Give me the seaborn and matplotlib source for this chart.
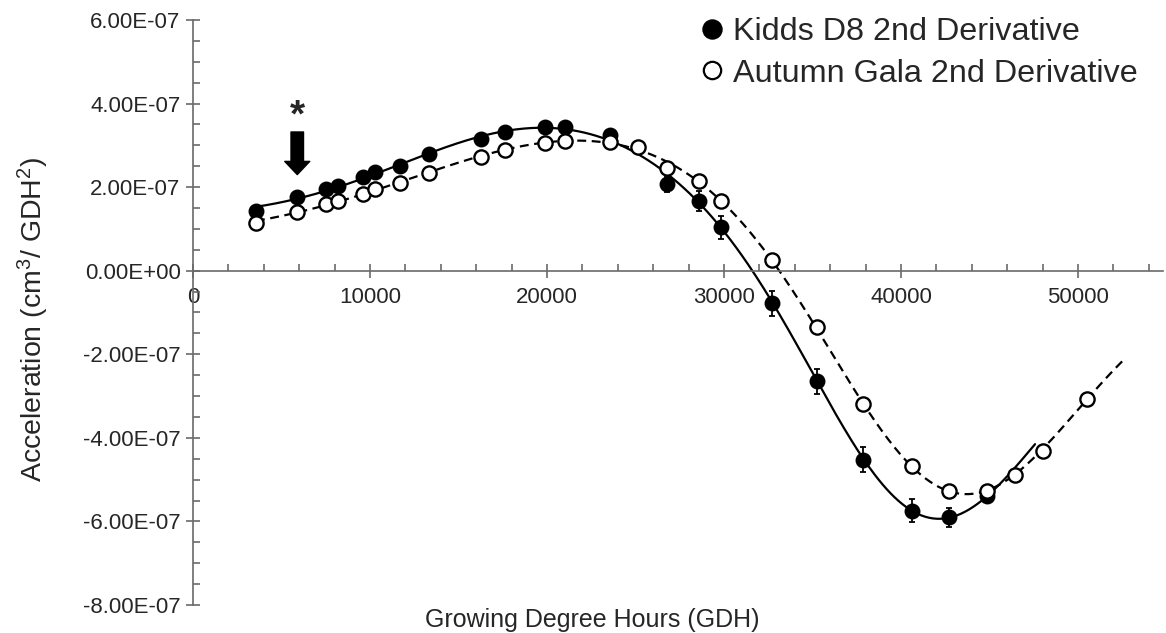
import numpy as np
import pandas as pd
import matplotlib
matplotlib.use("Agg")
import matplotlib.pyplot as plt
import seaborn as sns
from matplotlib.lines import Line2D
from matplotlib.ticker import MultipleLocator, FuncFormatter

# ---------------- data ----------------
kidds_x = [3560, 5890, 7500, 8190, 9590, 10280, 11700, 13310, 16250, 17630,
           19890, 21020, 23560, 26760, 28600, 29830, 32730, 35240, 37870,
           40640, 42710, 44880]
kidds_y = [1.44e-7, 1.76e-7, 1.95e-7, 2.02e-7, 2.24e-7, 2.36e-7, 2.51e-7,
           2.80e-7, 3.16e-7, 3.32e-7, 3.45e-7, 3.45e-7, 3.25e-7, 2.07e-7,
           1.67e-7, 1.04e-7, -7.8e-8, -2.65e-7, -4.52e-7, -5.74e-7,
           -5.90e-7, -5.40e-7]
kidds_err = [0, 0, 0, 0, 0, 0, 0, 0, 0, 0, 0, 0, 0, 1.8e-8, 2.3e-8, 2.7e-8,
             3.0e-8, 3.0e-8, 2.9e-8, 2.7e-8, 2.3e-8, 0]

gala_x = [3560, 5890, 7500, 8190, 9590, 10280, 11700, 13310, 16250, 17630,
          19890, 21020, 23560, 25160, 26760, 28600, 29830, 32730, 35240,
          37870, 40640, 42710, 44880, 46440, 48040, 50490]
gala_y = [1.15e-7, 1.40e-7, 1.60e-7, 1.66e-7, 1.84e-7, 1.96e-7, 2.10e-7,
          2.34e-7, 2.73e-7, 2.88e-7, 3.05e-7, 3.11e-7, 3.09e-7, 2.97e-7,
          2.46e-7, 2.15e-7, 1.67e-7, 2.6e-8, -1.35e-7, -3.19e-7, -4.68e-7,
          -5.26e-7, -5.26e-7, -4.90e-7, -4.31e-7, -3.06e-7]

# where each fitted curve ends
kidds_curve_end = (47570, -4.1e-7)
gala_curve_end = (52560, -2.13e-7)

legend_labels = ["Kidds D8 2nd Derivative", "Autumn Gala 2nd Derivative"]
x_label = "Growing Degree Hours (GDH)"
y_label = "Acceleration (cm$^3$/ GDH$^2$)"


# ---------------- smooth model fit: line + two Gaussians ----------------
def model_fit(xs, ys, end):
    xs = np.asarray(list(xs) + [end[0]], float) / 1e4
    ys = np.asarray(list(ys) + [end[1]], float) * 1e7
    m1s = np.linspace(1.2, 2.8, 33)
    s1s = np.linspace(0.4, 2.6, 23)
    m2s = np.linspace(3.6, 4.8, 25)
    s2s = np.linspace(0.3, 1.5, 25)
    M2, S2 = np.meshgrid(m2s, s2s, indexing="ij")
    M2 = M2.ravel(); S2 = S2.ravel()
    G2 = np.exp(-((xs[None, :] - M2[:, None]) / S2[:, None]) ** 2)
    best = (np.inf, None)
    for m1 in m1s:
        for s1 in s1s:
            g1 = np.exp(-((xs - m1) / s1) ** 2)
            A = np.empty((len(M2), len(xs), 4))
            A[:, :, 0] = 1.0
            A[:, :, 1] = xs
            A[:, :, 2] = g1
            A[:, :, 3] = G2
            AtA = np.einsum("knj,kni->kji", A, A) + 1e-9 * np.eye(4)
            Aty = np.einsum("knj,n->kj", A, ys)
            c = np.linalg.solve(AtA, Aty[..., None])[..., 0]
            r = np.einsum("knj,kj->kn", A, c) - ys
            sse = (r ** 2).sum(1)
            k = np.argmin(sse)
            if sse[k] < best[0]:
                best = (sse[k], (m1, s1, M2[k], S2[k], c[k]))
    m1, s1, m2, s2, c = best[1]

    def f(x):
        x = np.asarray(x, float) / 1e4
        return (c[0] + c[1] * x + c[2] * np.exp(-((x - m1) / s1) ** 2)
                + c[3] * np.exp(-((x - m2) / s2) ** 2)) / 1e7
    return f


def curve(xs, ys, end):
    f = model_fit(xs, ys, end)
    xx = np.linspace(xs[0], end[0], 400)
    return pd.DataFrame({"x": xx, "y": f(xx)})


kc = curve(kidds_x, kidds_y, kidds_curve_end)
gc = curve(gala_x, gala_y, gala_curve_end)

# ---------------- style ----------------
sns.set_theme(style="ticks")
plt.rcParams["font.family"] = ["Liberation Sans", "DejaVu Sans"]
plt.rcParams["mathtext.fontset"] = "custom"
plt.rcParams["mathtext.rm"] = "Liberation Sans"
plt.rcParams["mathtext.it"] = "Liberation Sans"
plt.rcParams["mathtext.default"] = "regular"

W, H = 1166, 633
fig = plt.figure(figsize=(W / 100, H / 100), dpi=100)
ax = fig.add_axes([193 / W, 1 - 605 / H, (1163 - 193) / W, (605 - 20) / H])

sns.lineplot(data=kc, x="x", y="y", ax=ax, color="black", lw=1.6, zorder=2)
sns.lineplot(data=gc, x="x", y="y", ax=ax, color="black", lw=1.6, zorder=2)
ax.lines[-1].set_linestyle((0, (4, 2.5)))

ax.errorbar(kidds_x, kidds_y, yerr=kidds_err, fmt="none", ecolor="black",
            elinewidth=1.3, capsize=2.5, capthick=1.3, zorder=3)
kd = pd.DataFrame({"x": kidds_x, "y": kidds_y})
gd = pd.DataFrame({"x": gala_x, "y": gala_y})
sns.scatterplot(data=kd, x="x", y="y", ax=ax, marker="o", s=105,
                color="black", edgecolor="black", linewidth=1.2, zorder=4)
sns.scatterplot(data=gd, x="x", y="y", ax=ax, marker="o", s=105,
                color="white", edgecolor="black", linewidth=1.7, zorder=5)

# axes
ax.set_xlim(0, 54800)
ax.set_ylim(-8e-7, 6e-7)
ax.spines["left"].set_position(("data", 0))
ax.spines["bottom"].set_position(("data", 0))
ax.spines["top"].set_visible(False)
ax.spines["right"].set_visible(False)
for s in ("left", "bottom"):
    ax.spines[s].set_color("#6a6a6a")
    ax.spines[s].set_linewidth(1.2)

ax.xaxis.set_major_locator(MultipleLocator(10000))
ax.xaxis.set_minor_locator(MultipleLocator(2000))
ax.yaxis.set_major_locator(MultipleLocator(2e-7))
ax.yaxis.set_minor_locator(MultipleLocator(0.5e-7))
ax.yaxis.set_major_formatter(FuncFormatter(lambda v, p: f"{v:.2E}"))
ax.xaxis.set_major_formatter(FuncFormatter(lambda v, p: f"{v:.0f}"))
ax.tick_params(axis="x", which="major", direction="inout", length=10,
               width=1.2, color="#6a6a6a", labelsize=16, pad=7)
ax.tick_params(axis="x", which="minor", direction="in", length=5,
               width=1.2, color="#6a6a6a")
ax.tick_params(axis="y", which="major", direction="inout", length=10,
               width=1.2, color="#6a6a6a", labelsize=16, pad=4)
ax.tick_params(axis="y", which="minor", direction="in", length=5,
               width=1.2, color="#6a6a6a")
ax.set_xlabel("")
ax.set_ylabel("")

fig.text(592 / W, 1 - 620 / H, x_label, ha="center", va="center",
         fontsize=18)
fig.text(33 / W, 1 - 319 / H, y_label, ha="center", va="center",
         fontsize=20.5, rotation=90)

# arrow and asterisk
ax.annotate("", xy=(kidds_x[1], 2.30e-7), xytext=(kidds_x[1], 3.32e-7),
            arrowprops=dict(facecolor="black", edgecolor="black", width=9,
                            headwidth=18, headlength=9.5, shrink=0))
ax.text(kidds_x[1], 3.68e-7, "*", ha="center", va="center", fontsize=28,
        fontweight="bold")

# legend
handles = [Line2D([], [], marker="o", ls="none", ms=13.5, mfc="black",
                  mec="black", mew=1.2),
           Line2D([], [], marker="o", ls="none", ms=12.5, mfc="white",
                  mec="black", mew=1.6)]
fig.legend(handles, legend_labels, loc="upper right",
           bbox_to_anchor=(1138 / W, 1 - 17 / H), frameon=False,
           fontsize=23.3, handletextpad=0.25, labelspacing=0.36,
           borderpad=0, handlelength=0.8, borderaxespad=0)

fig.savefig("out.png", dpi=100)
